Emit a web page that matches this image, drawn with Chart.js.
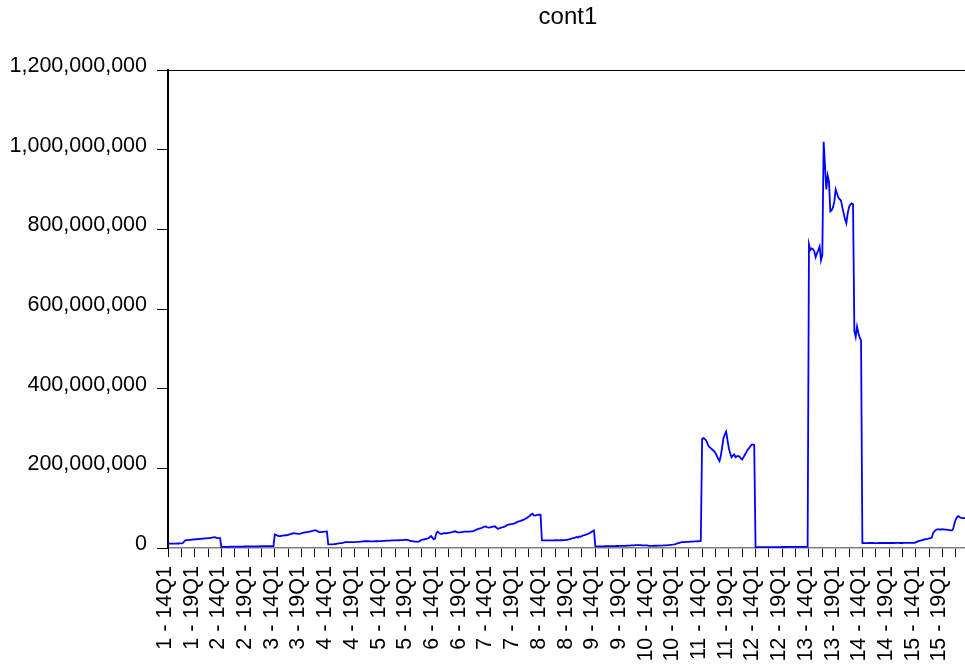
<!DOCTYPE html>
<html>
<head>
<meta charset="utf-8">
<title>cont1</title>
<script src="https://cdn.jsdelivr.net/npm/chart.js@4/dist/chart.umd.min.js"></script>
<style>
  html, body { margin: 0; padding: 0; background: #ffffff; overflow: hidden; }
  #wrap { position: absolute; left: 0; top: 0; width: 991px; height: 669px; }
</style>
</head>
<body>
<div id="wrap"><canvas id="chart" width="991" height="669"></canvas></div>
<script>
// cont1 by cross-section (1..15), quarterly 2014Q1-2023Q4, values in millions
const TITLE = 'cont1';
const units = [1, 2, 3, 4, 5, 6, 7, 8, 9, 10, 11, 12, 13, 14, 15];
const firstYear = 14;
const quartersPerUnit = 40;
const labelEvery = 20;
const tickEvery = 10;

const unit1 = [11, 11, 11, 11, 11, 11.2, 11.2, 11.3, 11.3, 11.5, 11.5, 12, 16, 19, 19.5, 20, 20.3, 20.6, 21, 21.3,
  21.6, 22, 22.3, 22.6, 23, 23.2, 23.5, 23.8, 24.1, 24.4, 24.7, 25, 25.5, 26, 26.5, 27, 26, 25, 25, 25];
const unit2 = [2.5, 2.6, 2.7, 2.8, 2.9, 3, 3.1, 3.2, 3.3, 3.3, 3.4, 3.5, 3.5, 3.6, 3.6, 3.7, 3.7, 3.8, 3.8, 3.9,
  3.9, 4, 4, 4.1, 4.1, 4.2, 4.2, 4.3, 4.3, 4.4, 4.4, 4.5, 4.5, 4.6, 4.6, 4.7, 4.7, 4.8, 4.8, 4.9];
const unit3 = [34, 33, 31, 30, 30, 30.5, 31, 31.5, 32, 32, 33, 34, 35, 36, 37, 36.5, 36, 36, 35.5, 36,
  37, 38, 39, 39.5, 40, 40.5, 41, 42, 43, 43.5, 44, 44, 42, 40, 40, 40, 40.5, 41, 41, 41.5];
const unit4 = [9, 9, 9, 9.2, 9.5, 10, 10.5, 11, 11.5, 12, 12.5, 13, 14, 14.5, 14.5, 14.5, 14.6, 14.8, 15, 15,
  15, 15.2, 15.5, 15.5, 15.8, 16, 16.5, 17, 17, 17, 17, 16.8, 16.5, 16.5, 16.8, 17, 17, 17, 17.2, 17.5];
const unit5 = [17.5, 18, 18, 18.2, 18.5, 18.5, 18.5, 18.8, 19, 19, 19, 19.2, 19.5, 19.5, 19.8, 20, 20, 20.5, 21, 20.5,
  19.5, 18.5, 17.5, 17, 16.5, 16, 15.8, 15.5, 16.5, 18.5, 20.5, 21, 22, 22.5, 23.5, 24.5, 27, 30, 26, 22];
const unit6 = [24, 38, 41, 38, 35.5, 35.5, 36.5, 37, 37, 37.5, 38, 38.5, 39.5, 40, 41, 42, 40.5, 39, 39, 39.5,
  40, 40.5, 41, 41, 41, 41, 41, 41.5, 42, 43, 44.5, 46, 47.5, 48.5, 49.5, 50.5, 52, 53.5, 54, 52];
const unit7 = [51, 51.5, 52.5, 53.5, 54, 54, 51, 48.5, 49, 50.5, 52, 52.5, 53.5, 55.5, 57.5, 59, 59.5, 60, 60.5, 61,
  62.5, 64.5, 66, 67, 68, 69.5, 70.5, 72, 74, 76, 78.5, 81, 84, 86, 82, 81.5, 82.5, 83, 83.5, 83.5];
const unit8 = [19, 19, 19, 19, 19, 19.2, 19.2, 19, 19, 19.2, 19.5, 19.5, 19.5, 19.2, 19.5, 19.5, 20, 20, 20.5, 20.5,
  21.5, 22.5, 23.5, 24.5, 25.5, 26, 27.5, 26, 29, 28, 30, 32, 32.5, 33.5, 35, 36.5, 38, 40, 42, 44];
const unit9 = [4, 4, 4, 4.2, 4.2, 4.3, 4.3, 4.4, 4.5, 4.5, 4.6, 4.6, 4.7, 4.8, 4.8, 4.9, 5, 5, 5.1, 5.2,
  5.3, 5.4, 5.5, 5.6, 5.8, 6, 6.2, 6.4, 6.6, 6.8, 7, 7.2, 7.4, 7.2, 7, 6.8, 6.7, 6.6, 6.5, 6.5];
const unit10 = [5.5, 5.5, 5.5, 5.5, 5.6, 5.6, 5.7, 5.8, 5.9, 6, 6.2, 6.4, 6.6, 6.8, 7, 7.3, 7.6, 8, 8.5, 9.2,
  10, 11, 12, 13, 14, 14.5, 14.8, 15, 15.3, 15.5, 15.6, 15.8, 16, 16.2, 16.4, 16.6, 16.8, 17, 17.2, 17.5];
const unit11 = [274, 276, 274, 270, 262, 255, 252, 249, 246, 243, 238, 231, 224, 218, 232, 253, 276, 285, 292, 270,
  250, 238, 228, 232, 235, 228, 230, 231, 229, 225, 222, 228, 234, 240, 246, 250, 255, 259, 260, 259];
const unit12 = [2.2, 2.2, 2.2, 2.1, 2.1, 2.1, 2.2, 2.2, 2.2, 2.3, 2.3, 2.3, 2.3, 2.3, 2.4, 2.4, 2.4, 2.4, 2.4, 2.4,
  2.5, 2.5, 2.5, 2.5, 2.6, 2.6, 2.6, 2.6, 2.6, 2.7, 2.7, 2.7, 2.7, 2.8, 2.8, 2.8, 2.8, 2.9, 2.9, 3];
const unit13 = [762, 748, 752, 750, 745, 730, 740, 748, 757, 722, 735, 1020, 960, 900, 935, 920, 845, 848, 855, 870,
  900, 890, 880, 876, 872, 855, 840, 825, 815, 840, 856, 862, 865, 863, 545, 530, 556, 540, 528, 521];
const unit14 = [12.5, 12.5, 12.4, 12.4, 12.4, 12.5, 12.5, 12.5, 12.5, 12.4, 12.4, 12.4, 12.5, 12.5, 12.5, 12.5, 12.6, 12.6, 12.6, 12.5,
  12.5, 12.5, 12.6, 12.6, 12.6, 12.7, 12.7, 12.7, 12.6, 12.6, 12.6, 12.7, 12.7, 12.8, 12.8, 12.8, 12.9, 12.9, 13, 13];
const unit15 = [14, 16, 17, 18, 19, 20, 21, 22, 22.5, 23, 24, 24.5, 26, 38, 42, 45, 47, 47, 46.5, 46.5,
  47, 46.5, 46, 46, 45.5, 45, 44, 44, 48, 62, 72, 78, 80, 77, 75.5, 75, 75, 75.5, 76, 76];

const seriesMillions = [].concat(unit1, unit2, unit3, unit4, unit5, unit6, unit7, unit8,
  unit9, unit10, unit11, unit12, unit13, unit14, unit15);

// category labels "unit - yyQq"
const categories = [];
units.forEach(u => {
  for (let k = 0; k < quartersPerUnit; k++) {
    const yy = firstYear + Math.floor(k / 4);
    const q = (k % 4) + 1;
    categories.push(u + ' - ' + yy + 'Q' + q);
  }
});

const FONT = '"Liberation Sans", Arial, Helvetica, sans-serif';

// top/right frame of the plot box
const frame = {
  id: 'frame',
  afterDraw(chart) {
    const { ctx, chartArea: a } = chart;
    ctx.save();
    ctx.strokeStyle = '#000000';
    ctx.lineWidth = 1;
    ctx.beginPath();
    ctx.moveTo(a.left, a.top + 0.5);
    ctx.lineTo(a.right, a.top + 0.5);
    ctx.lineTo(a.right, a.bottom);
    ctx.stroke();
    ctx.restore();
  }
};

new Chart(document.getElementById('chart'), {
  type: 'line',
  data: {
    labels: categories,
    datasets: [{
      label: TITLE,
      data: seriesMillions.map(v => v * 1e6),
      borderColor: '#0000ff',
      borderWidth: 1.8,
      pointRadius: 0,
      tension: 0,
      fill: false
    }]
  },
  options: {
    responsive: false,
    animation: false,
    devicePixelRatio: 1,
    layout: { padding: { left: 0, right: 0, top: 0, bottom: 0 } },
    plugins: {
      legend: { display: false },
      tooltip: { enabled: false },
      title: {
        display: true,
        text: TITLE,
        fullSize: false,
        color: '#000000',
        font: { family: FONT, size: 24, weight: 'normal', lineHeight: 1.2 },
        padding: { top: 3, bottom: 38.2 }
      }
    },
    scales: {
      x: {
        type: 'category',
        offset: false,
        grid: {
          display: true,
          drawOnChartArea: false,
          drawTicks: true,
          tickLength: 9,
          tickWidth: 1,
          tickColor: '#000000'
        },
        border: { display: true, color: '#808080', width: 1.5 },
        ticks: {
          autoSkip: false,
          minRotation: 90,
          maxRotation: 90,
          padding: 9,
          labelOffset: -3,
          color: '#000000',
          font: { family: FONT, size: 21.5 },
          callback: function (value, index) {
            if (index % labelEvery === 0) return categories[index];
            if (index % tickEvery === 0) return '';
            return null;
          }
        },
        afterFit(scale) { scale.height = 121; }
      },
      y: {
        min: 0,
        max: 1200000000,
        grid: {
          display: true,
          drawOnChartArea: false,
          drawTicks: true,
          tickLength: 11,
          tickColor: '#000000'
        },
        border: { display: true, color: '#000000', width: 2 },
        ticks: {
          stepSize: 200000000,
          padding: 10,
          labelOffset: -4,
          color: '#000000',
          font: { family: FONT, size: 21.5 },
          callback: v => Number(v).toLocaleString('en-US')
        },
        afterFit(scale) { scale.width = 168; }
      }
    }
  },
  plugins: [frame]
});
</script>
</body>
</html>
